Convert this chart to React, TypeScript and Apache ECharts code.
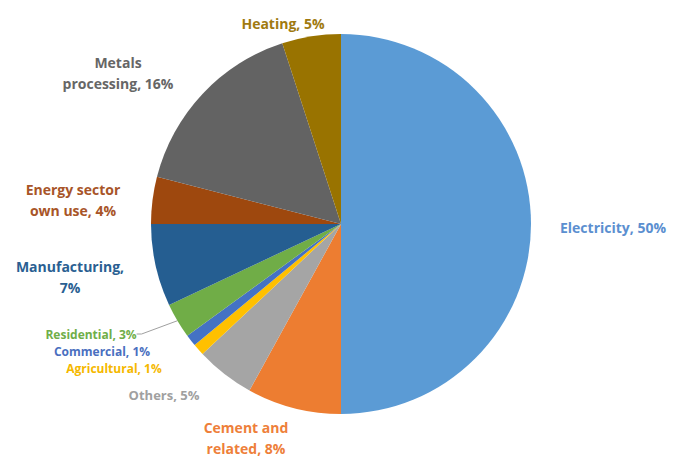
import React, { useEffect, useRef } from "react";
import * as echarts from "echarts";

const categories = [
  "Electricity",
  "Cement and related",
  "Others",
  "Agricultural",
  "Commercial",
  "Residential",
  "Manufacturing",
  "Energy sector own use",
  "Metals processing",
  "Heating",
];
const values = [50, 8, 5, 1, 1, 3, 7, 4, 16, 5];
const labelTexts = [
  "Electricity, 50%",
  "Cement and\nrelated, 8%",
  "Others, 5%",
  "Agricultural, 1%",
  "Commercial, 1%",
  "Residential, 3%",
  "Manufacturing,\n7%",
  "Energy sector\nown use, 4%",
  "Metals\nprocessing, 16%",
  "Heating, 5%",
];

const sliceColors = [
  "#5B9BD5",
  "#ED7D31",
  "#A5A5A5",
  "#FFC000",
  "#4472C4",
  "#70AD47",
  "#255E91",
  "#9E480E",
  "#636363",
  "#997300",
];
const labelColors = [
  "#5B8FD0",
  "#EE7F3A",
  "#A0A0A0",
  "#F5B800",
  "#4A6FC0",
  "#6FAE48",
  "#2A5F92",
  "#A85528",
  "#666666",
  "#A07A10",
];
// label centre positions in px
const labelPos: [number, number][] = [
  [613, 227],
  [246, 438],
  [164, 395],
  [114, 368],
  [102, 351],
  [91, 334],
  [70, 277],
  [73, 200],
  [118, 73],
  [283, 23],
];
const labelSizes = [14, 14, 13, 12, 12, 12, 14, 14, 14, 14];

export default function App() {
  const ref = useRef<HTMLDivElement>(null);
  useEffect(() => {
    if (!ref.current) return;
    const chart = echarts.init(ref.current, undefined, { renderer: "svg" });
    chart.setOption({
      animation: false,
      backgroundColor: "#ffffff",
      series: [
        {
          type: "pie",
          center: [341, 224],
          radius: 190,
          startAngle: 90,
          clockwise: true,
          avoidLabelOverlap: false,
          itemStyle: { borderWidth: 0 },
          label: {
            show: true,
            position: "outside",
            fontFamily: "Open Sans",
            fontWeight: "bold",
            fontSize: 14,
            lineHeight: 21,
            align: "center",
            formatter: (p: any) => labelTexts[p.dataIndex],
          },
          labelLine: { show: false },
          labelLayout: (p: any) => ({
            x: labelPos[p.dataIndex][0],
            y: labelPos[p.dataIndex][1],
            align: "center",
            verticalAlign: "middle",
          }),
          data: categories.map((c, i) => ({
            name: c,
            value: values[i],
            itemStyle: { color: sliceColors[i] },
            label: {
              color: labelColors[i],
              fontSize: labelSizes[i],
              lineHeight: labelTexts[i].includes("\n") ? 21 : 14,
            },
            labelLine:
              c === "Residential"
                ? { show: true, length: 5, length2: 5, lineStyle: { color: "#A0A0A0", width: 1 } }
                : { show: false },
          })),
        },
      ],
    });
    return () => chart.dispose();
  }, []);
  return (
    <div
      ref={ref}
      style={{ position: "fixed", left: 0, top: 0, width: 675, height: 458 }}
    />
  );
}
